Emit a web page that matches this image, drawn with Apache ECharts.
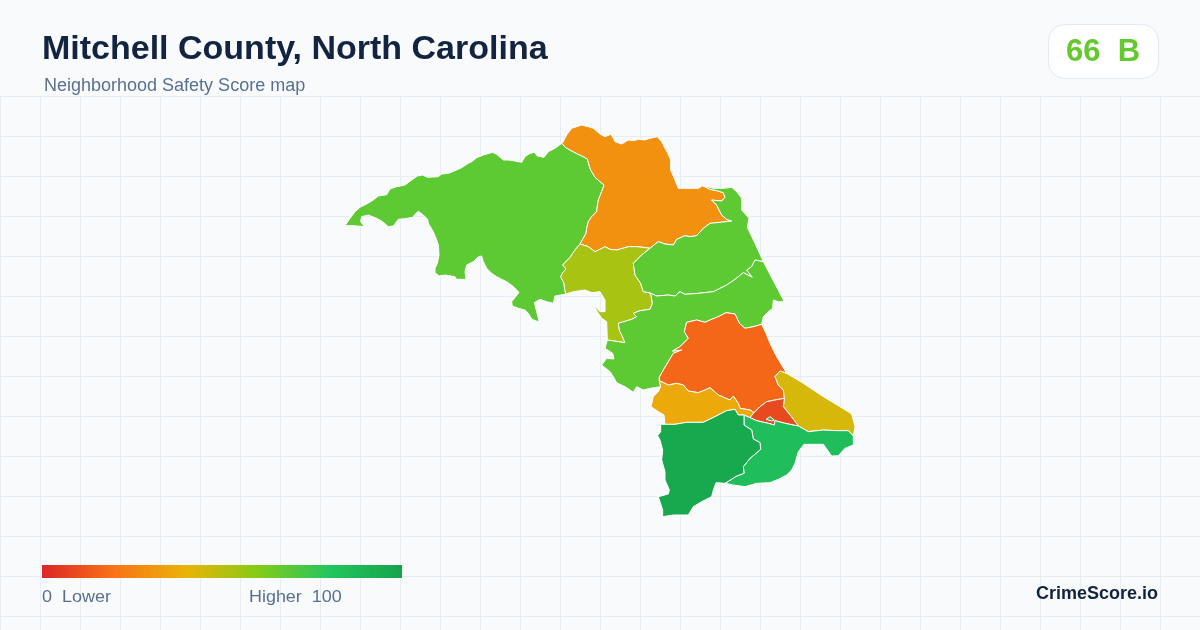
<!DOCTYPE html>
<html><head><meta charset="utf-8">
<style>html,body{margin:0;padding:0;background:#f8fafc}#c{width:1200px;height:630px}</style>
<script src="https://cdn.jsdelivr.net/npm/echarts@6/dist/echarts.min.js"></script>
</head><body><div id="c"></div>
<script>
// ---- data ----
const regionNames  = ['Area 1','Area 2','Area 3','Area 4','Area 5','Area 6','Area 7','Area 8','Area 9','Area 10','Area 11'];
const regionScores = [68,29,53,68,68,17,37,44,9,84,97];
const scaleColors  = ['#dc2626','#f97316','#eab308','#84cc16','#22c55e','#16a34a'];
const overallScore = 66;
const overallGrade = 'B';

// ---- traced boundary edges of the base map (source px in 3x crop, crop origin first) ----
const t=(ox,oy,a)=>{const r=[];for(let i=0;i<a.length;i+=2)r.push([ox+a[i]/3,oy+a[i+1]/3]);return r;};
const A=a=>t(340,120,a),B=a=>t(550,120,a),C=a=>t(590,290,a);
const rev=a=>a.slice().reverse();
const nwOrange=A([665,70,678,83,690,90,703,97,715,103,730,110,742,117,747,135,752,150,765,172,778,183,792,195,785,215,775,240,772,258,770,275,755,290,745,305,740,325,738,340,728,358,720,372]);
const nwLime=A([720,372,705,390,690,412,668,435,678,447,668,458,662,470,672,490,674,508,678,522]);
const nwCoast=A([645,528,640,550,620,545,600,538,583,548,590,575,598,605,585,602,575,597,565,580,555,570,535,565,517,558,515,545,527,530,537,517,518,498,500,485,485,478,470,470,455,460,440,445,430,425,425,408,415,410,400,425,380,435,375,455,378,478,350,478,345,470,315,465,297,468,285,458,285,445,292,430,297,405,295,375,290,360,280,335,265,310,263,298,250,285,235,274,225,283,218,292,195,296,175,298,160,318,145,320,128,305,110,295,85,285,65,290,62,305,73,320,40,317,15,317,30,295,45,275,60,262,80,252,100,240,115,228,140,224,150,207,170,200,195,195,215,180,232,168,248,165,262,172,295,170,305,162,325,160,345,152,365,143,385,130,400,122,410,113,430,105,458,97,470,103,490,120,505,120,525,123,545,127,555,110,570,100,583,97,592,108,612,112,625,95,645,85]);
const orangeCoast=B([38,68,50,45,65,25,80,20,95,15,115,20,130,25,150,42,165,50,183,43,190,55,195,65,215,72,235,60,250,62,265,58,285,60,300,55,322,50,335,65,345,85,352,97,362,120,362,150,375,180,385,205,445,205,458,197]);
const orangeD=B([458,197,480,208,500,212,520,218,525,232,515,243,485,240,500,255,508,272,515,285,530,298,545,303,510,307,480,310,460,325,440,347,420,350,405,347,380,358,370,375,345,372,325,365,312,375,300,385]);
const orangeLime=B([300,385,280,382,260,380,235,380,200,390,180,388,165,380,150,388,135,395,115,380,90,372]);
const limeCoast=B([45,523,70,515,105,510,125,518,150,515,165,540,165,575,150,575,130,553]).concat(C([10,43,22,65,35,85,50,95]));
const limeE=C([52,150,85,155,105,158,95,135,88,120,85,100,125,88,140,80,130,70,150,62,180,58,187,40,183,15,178,8]);
const dLime=B([298,518,280,515,272,490,255,465,250,430,262,418,275,405,300,385]);
const dCoast=B([458,197,490,205,520,205,545,202,560,215,575,235,575,270,597,295,592,322,615,370,640,425]);
const de=B([298,518,320,528,355,525,375,528,390,515,405,523,445,520,490,515,530,495,555,478,580,458,607,472,590,450,605,440,615,420,640,425]);
const eCoastN=C([583,35,565,35,550,30,548,55,535,65,520,80]);
const eF=C([515,103,490,110,465,115,448,100,435,72,408,68,385,80,360,90,345,97,320,90,290,97,283,125,295,145,270,170,248,183,275,180,250,190,235,215,220,240,208,262,208,272]);
const eG=C([208,272,212,290]);
const eCoastS=C([180,295,160,300,140,290,130,307,105,290,80,278,70,260,60,245,35,225,50,205,72,207,68,190,45,175]);
const fG=C([208,272,235,285,260,280,280,285,295,303,325,308,345,300,360,293,385,315,420,330,430,318,445,340,450,355,480,360,492,368]);
const fR=C([492,368,510,350,530,335,555,330,583,325]);
const fM=C([583,325,580,300,565,285,555,260,570,243,590,250]);
const fCoast=C([560,200,540,160,528,130]);
const gTail=C([480,383,462,375]);
const gH=C([462,375,445,375,435,358,410,362,375,380,340,397,290,397,255,403,225,403]);
const gCoast=C([222,375,205,365,183,350,190,320,205,305]);
const mCoast=C([640,280,670,300,700,320,750,350,785,372,795,410]);
const mL=C([790,438,775,422,740,422,700,420,655,425,625,408]);
const mR=C([625,408,610,388,600,375,580,350,583,325]);
const rL=C([625,408,585,400,555,392,553,405,535,400,500,392,480,383]);
const lIsland=C([528,388,540,380,553,390,545,393]);
const hL=C([462,375,462,405,485,420,490,447,510,458,512,478,480,505,460,530,462,550,440,558,405,580]);
const lCoast=C([430,585,465,590,500,580,540,578,565,568,590,555,605,540,615,520,625,485,642,463,700,463,712,480,725,498,745,497,765,475,790,465]);
const hCoast=C([212,403,212,425,203,437,210,450,218,480,215,510,225,545,225,570,238,600,235,612,205,620,218,660,218,680,250,675,295,675,310,650,335,635,365,620,370,600,378,578]);

const rings=[
 [[...nwOrange,...nwLime,...nwCoast]],
 [[...orangeCoast,...orangeD,...orangeLime,...rev(nwOrange)]],
 [[...nwLime,...limeCoast,...limeE,...dLime,...orangeLime]],
 [[...dCoast,...rev(de),...dLime,...rev(orangeD)]],
 [[...de,...eCoastN,...eF,...eG,...eCoastS,...limeE]],
 [[...eF,...fG,...fR,...fM,...fCoast]],
 [[...fG,...gTail,...gH,...gCoast,...rev(eG)]],
 [[...fM,...mCoast,...mL,...mR]],
 [[...fR,...rev(mR),...rL]],
 [[...hL,...lCoast,...mL,...rL,gTail[1]],[...lIsland]],
 [[...gH,...hCoast,...rev(hL)]]
];
const close=r=>{const o=r.map(p=>[p[0],-p[1]]);o.push(o[0]);return o;};
const geoJson={type:'FeatureCollection',features:regionNames.map((name,i)=>({
  type:'Feature',properties:{name},
  geometry:{type:'MultiPolygon',coordinates:rings[i].map(r=>[close(r)])}
}))};
echarts.registerMap('county',geoJson);

// ---- chart ----
const gridColor='#e7eef3';
const gridLines=[];
for(let x=0;x<=1200;x+=40)gridLines.push({type:'line',silent:true,z:0,shape:{x1:x+.5,y1:96,x2:x+.5,y2:630},style:{stroke:gridColor,lineWidth:1}});
for(let y=96;y<630;y+=40)gridLines.push({type:'line',silent:true,z:0,shape:{x1:0,y1:y+.5,x2:1200,y2:y+.5},style:{stroke:gridColor,lineWidth:1}});
const font='"Liberation Sans",Arial,sans-serif';
const txt=(text,x,y,size,color,weight,align,sx)=>({type:'text',silent:true,z:20,x,y,scaleX:sx||1,style:{text,fontFamily:font,fontSize:size,fontWeight:weight||'normal',fill:color,textAlign:align||'left',textVerticalAlign:'middle'}});

const chart=echarts.init(document.getElementById('c'),null,{renderer:'canvas'});
chart.setOption({
  animation:false,
  backgroundColor:'#f8fafc',
  title:[
    {text:'Mitchell County, North Carolina',left:42,top:33,padding:0,textStyle:{fontFamily:font,fontSize:34,fontWeight:'bold',color:'#12243f'}},
    {text:'Neighborhood Safety Score map',left:44,top:77,padding:0,textStyle:{fontFamily:font,fontSize:18,fontWeight:'normal',color:'#5a7090'}}
  ],
  visualMap:{type:'continuous',show:false,min:0,max:100,inRange:{color:scaleColors},seriesIndex:0},
  series:[{type:'map',map:'county',aspectScale:1,
    boundingCoords:[[0,0],[1200,-630]],left:0,top:0,width:1200,height:630,
    roam:false,silent:true,selectedMode:false,
    label:{show:false},emphasis:{disabled:true},
    itemStyle:{borderColor:'#ffffff',borderWidth:1},
    data:regionNames.map((name,i)=>({name,value:regionScores[i]}))}],
  graphic:[...gridLines,
    {type:'rect',silent:true,z:10,shape:{x:42,y:565,width:360,height:13},style:{fill:new echarts.graphic.LinearGradient(0,0,1,0,scaleColors.map((color,i)=>({offset:i/(scaleColors.length-1),color})))}},
    {type:'rect',silent:true,z:10,shape:{x:1048.5,y:24.5,width:110,height:54,r:16},style:{fill:'#ffffff',stroke:'#e2e8f0',lineWidth:1}},
    txt(overallScore+'  '+overallGrade,1103,52,31,'#65c82f','bold','center'),
    txt('0  Lower',42,598,16,'#5a6f8c','normal','left',1.125),
    txt('Higher  100',249,598,16,'#5a6f8c','normal','left',1.12),
    txt('CrimeScore.io',1158,594,18,'#14233c','bold','right')
  ]
});
</script></body></html>
